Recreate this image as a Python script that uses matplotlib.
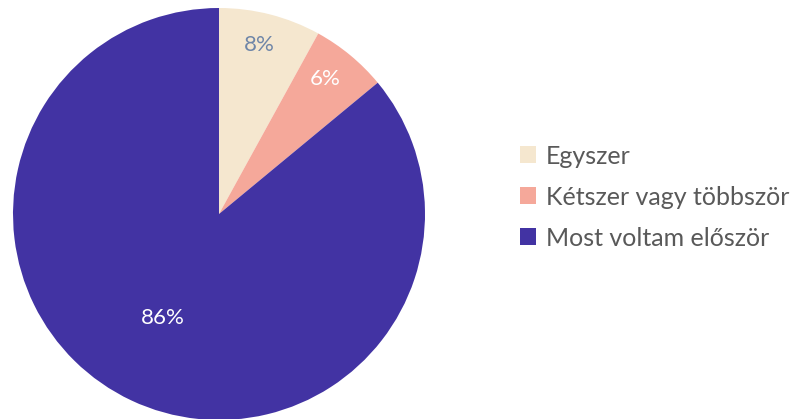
import matplotlib.pyplot as plt

# data
labels = ['Egyszer', 'Kétszer vagy többször', 'Most voltam először']
values = [8, 6, 86]
colors = ['#F5E7CF', '#F5A89A', '#4233A3']
pct_colors = ['#6F86A8', 'white', 'white']

plt.rcParams['font.family'] = ['Lato', 'DejaVu Sans']

fig = plt.figure(figsize=(7.95, 4.19), dpi=100)
W, H = 795, 419
cx, cy, r = 219, 214, 206
ax = fig.add_axes([(cx - r) / W, (H - cy - r) / H, 2 * r / W, 2 * r / H])

wedges, texts, autotexts = ax.pie(values, colors=colors, startangle=90, counterclock=False,
                                  autopct='%d%%', pctdistance=0.84,
                                  wedgeprops=dict(linewidth=0),
                                  textprops=dict(fontsize=16))
ax.set_xlim(-1, 1)
ax.set_ylim(-1, 1)
ax.set_aspect('equal')

for t, c in zip(autotexts, pct_colors):
    t.set_color(c)
# big slice label sits closer to the centre
autotexts[2].set_position((-56 / r, -104 / r))
autotexts[0].set_position((40 / r, 169 / r))
autotexts[1].set_position((106 / r, 135 / r))

fig.legend(wedges, labels, loc='center left', bbox_to_anchor=(497 / W, (H - 197) / H),
           frameon=False, labelcolor='#595959', prop=dict(size=18),
           handlelength=0.65, handleheight=0.65, handletextpad=0.4, labelspacing=0.72)

fig.savefig('out.png', dpi=100)
